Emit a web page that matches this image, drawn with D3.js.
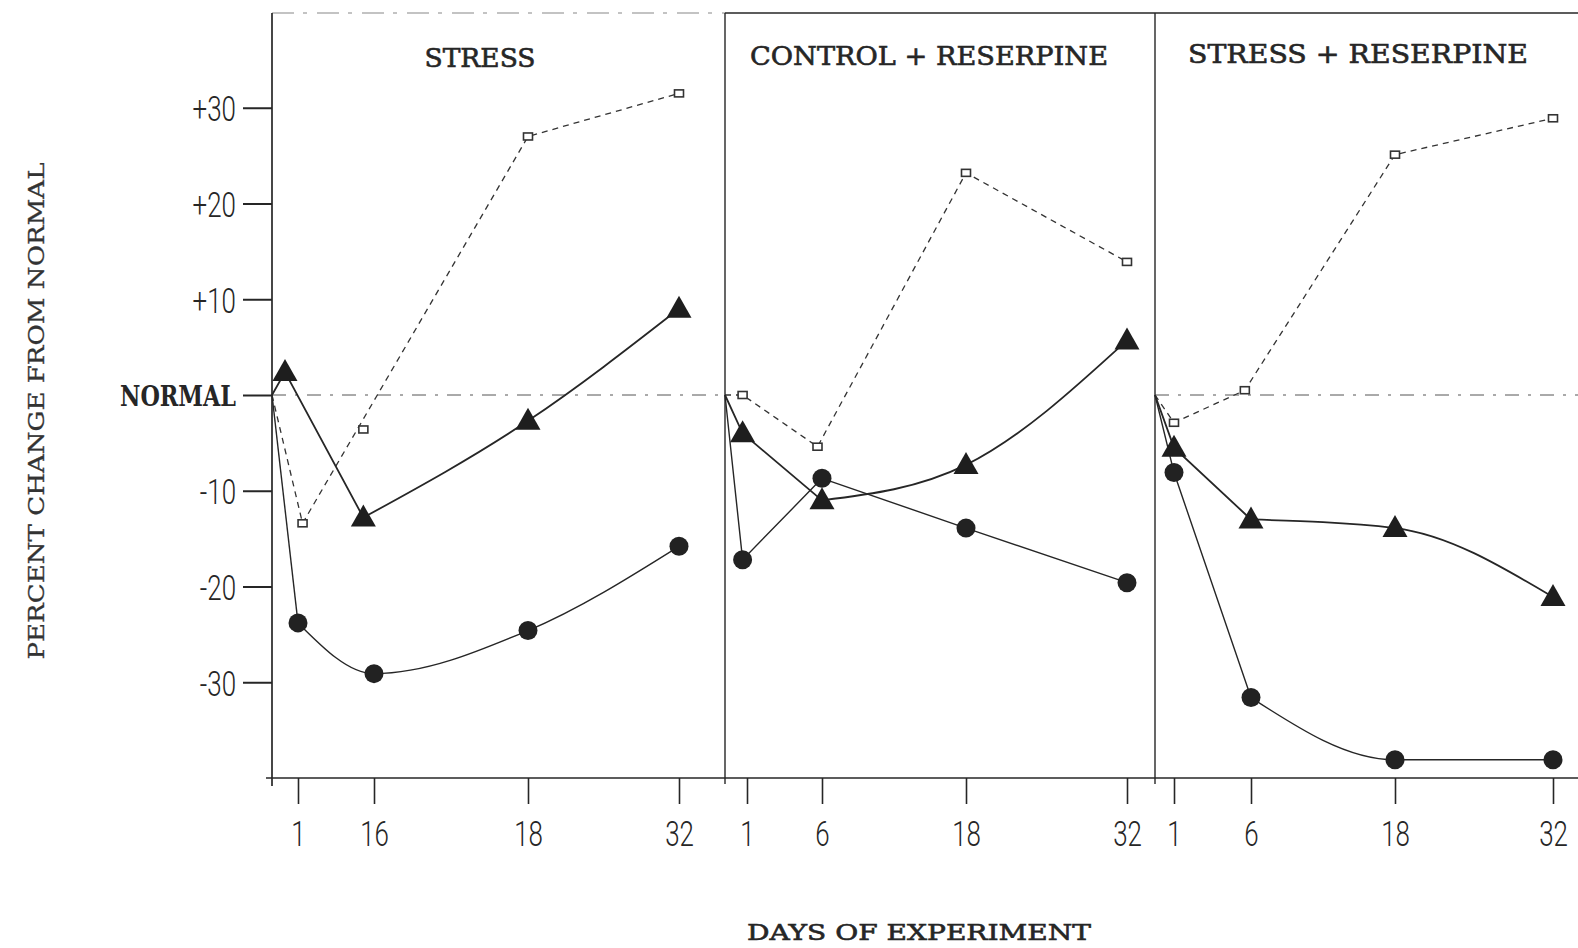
<!DOCTYPE html>
<html>
<head>
<meta charset="utf-8">
<script src="https://cdn.jsdelivr.net/npm/d3@7"></script>
<style>
  html, body { margin: 0; padding: 0; background: #fff; }
  svg { display: block; }
</style>
</head>
<body>
<svg id="chart" width="1578" height="948"></svg>
<script>
// Percent change from normal over the days of the experiment, three groups side by side.
const panelTitles = ["STRESS", "CONTROL + RESERPINE", "STRESS + RESERPINE"];
const tickDays = [1, 6, 18, 32];
const tickLabels = [["1", "16", "18", "32"], ["1", "6", "18", "32"], ["1", "6", "18", "32"]];
const yTickValues = [30, 20, 10, 0, -10, -20, -30];
const yTickLabels = ["+30", "+20", "+10", "NORMAL", "-10", "-20", "-30"];

// Every series leaves from the origin (day 0, normal); that first point carries no marker.
const squareDays = [[0, 1.3, 5.3, 18, 32], [0, 0.8, 5.7, 18, 32], [0, 1, 5.6, 18, 32]];
const squareValues = [[0, -13.4, -3.6, 27.0, 31.5], [0, 0, -5.4, 23.2, 13.9], [0, -2.9, 0.5, 25.1, 28.9]];
const squareUnjoined = [[2], [], []];
const triangleDays = [[0, 0.5, 5.3, 18, 32], [0, 0.8, 6, 18, 32], [0, 1, 6, 18, 32]];
const triangleValues = [[0, 2.4, -12.8, -2.7, 9.0], [0, -4.0, -11.0, -7.3, 5.7], [0, -5.5, -13.0, -13.9, -21.1]];
const circleDays = [[0, 1, 6, 18, 32], [0, 0.8, 6, 18, 32], [0, 1, 6, 18, 32]];
const circleValues = [[0, -23.8, -29.1, -24.6, -15.8], [0, -17.2, -8.7, -13.9, -19.6], [0, -8.1, -31.6, -38.1, -38.1]];
// point index from which each trace is drawn as a smooth curve
const triangleBend = [2, 2, 2];
const circleBend = [1, 2, 2];

// ---- layout ----
const INK = "#262626";
const TYPE = "'DejaVu Serif', 'Liberation Serif', serif";
const NUMF = "Roboto, 'Liberation Sans', sans-serif";
const plotTop = 12, plotBottom = 778;
const panelLeft = [272, 725, 1155];
const panelRight = [725, 1155, 1578];
// hand-spaced day axis: offsets of days 0, 1, 6, 18, 32 from each panel's left edge
const dayStops = [[0, 26, 102, 256, 407], [0, 22, 97, 241, 402], [0, 19, 96, 240, 398]];
const titleLength = [111, 358, 340];
const titleX = [480, 929, 1358];
const titleBase = [67, 65, 63];
const squeeze = 0.72;

const svg = d3.select("#chart");
svg.append("rect").attr("width", 1578).attr("height", 948).attr("fill", "#fff");

const y = d3.scaleLinear().domain([-40, 40]).range([plotBottom, plotTop]);
const xs = panelLeft.map((l, i) =>
  d3.scaleLinear().domain([0, 1, 6, 18, 32]).range(dayStops[i].map(o => l + o)));

// ---- frame ----
const frame = svg.append("g").attr("stroke", INK).attr("fill", "none");
frame.append("line").attr("x1", panelLeft[0]).attr("x2", panelRight[0])
  .attr("y1", plotTop + 1).attr("y2", plotTop + 1)
  .attr("stroke-width", 1.2).attr("stroke-dasharray", "22,9,4,10").attr("opacity", 0.55);
frame.append("line").attr("x1", panelLeft[1]).attr("x2", 1578)
  .attr("y1", plotTop + 1).attr("y2", plotTop + 1).attr("stroke-width", 1.3);
frame.append("line").attr("x1", panelLeft[0]).attr("x2", panelLeft[0])
  .attr("y1", plotTop + 1).attr("y2", plotBottom + 8).attr("stroke-width", 1.7);
[panelLeft[1], panelLeft[2]].forEach(x => {
  frame.append("line").attr("x1", x).attr("x2", x)
    .attr("y1", plotTop + 1).attr("y2", plotBottom + 6).attr("stroke-width", 1.4);
});
frame.append("line").attr("x1", panelLeft[0] - 6).attr("x2", 1578)
  .attr("y1", y(-40)).attr("y2", y(-40)).attr("stroke-width", 1.4);

// ---- normal reference line ----
[0, 2].forEach(i => {
  svg.append("line").attr("x1", panelLeft[i]).attr("x2", panelRight[i])
    .attr("y1", y(0)).attr("y2", y(0))
    .attr("stroke", "#555").attr("stroke-width", 1)
    .attr("stroke-dasharray", "14,9,3,9");
});

// ---- y axis ----
const yAxis = svg.append("g").attr("transform", `translate(${panelLeft[0]},0)`)
  .call(d3.axisLeft(y).tickValues(yTickValues).tickSize(29).tickPadding(7)
    .tickFormat((d, i) => yTickLabels[i]));
yAxis.select(".domain").remove();
yAxis.selectAll(".tick line").attr("stroke", INK).attr("stroke-width", 2);
yAxis.selectAll(".tick text").each(function (d) {
  const t = d3.select(this);
  if (d === 0) {
    t.attr("font-family", TYPE).attr("font-weight", 700).attr("font-size", 27)
      .attr("fill", INK).attr("dy", "0.4em")
      .attr("textLength", 116).attr("lengthAdjust", "spacingAndGlyphs");
  } else {
    const x0 = +t.attr("x");
    t.attr("font-family", NUMF).attr("font-weight", 300).attr("font-size", 36)
      .attr("fill", INK).attr("x", x0 / squeeze).attr("dy", "0.36em")
      .attr("transform", `scale(${squeeze},1)`);
  }
});

// ---- x axes ----
xs.forEach((xs_i, i) => {
  const g = svg.append("g").attr("transform", `translate(0,${y(-40)})`)
    .call(d3.axisBottom(xs_i).tickValues(tickDays).tickSize(26).tickPadding(16)
      .tickFormat((d, j) => tickLabels[i][j]));
  g.select(".domain").remove();
  g.selectAll(".tick line").attr("stroke", INK).attr("stroke-width", 1.6);
  g.selectAll(".tick text")
    .attr("font-family", NUMF).attr("font-weight", 300).attr("font-size", 36)
    .attr("fill", INK).attr("transform", `scale(${squeeze},1)`);
});

// ---- panel titles ----
panelTitles.forEach((t, i) => {
  svg.append("text").attr("x", titleX[i]).attr("y", titleBase[i])
    .attr("text-anchor", "middle").attr("font-family", TYPE).attr("font-size", 26)
    .attr("fill", INK).attr("stroke", INK).attr("stroke-width", 0.6)
    .attr("textLength", titleLength[i]).attr("lengthAdjust", "spacingAndGlyphs")
    .text(t);
});

// ---- axis titles ----
svg.append("text").attr("transform", "translate(44,411) rotate(-90)")
  .attr("text-anchor", "middle").attr("font-family", TYPE).attr("font-size", 23)
  .attr("fill", "#333").attr("stroke", "#333").attr("stroke-width", 0.3)
  .attr("textLength", 497).attr("lengthAdjust", "spacingAndGlyphs")
  .text("PERCENT CHANGE FROM NORMAL");
svg.append("text").attr("x", 919).attr("y", 940)
  .attr("text-anchor", "middle").attr("font-family", TYPE).attr("font-size", 22)
  .attr("fill", INK).attr("stroke", INK).attr("stroke-width", 0.6)
  .attr("textLength", 344).attr("lengthAdjust", "spacingAndGlyphs")
  .text("DAYS OF EXPERIMENT");

// ---- traces ----
const straight = d3.line();
const smooth = d3.line().curve(d3.curveMonotoneX);
const traces = svg.append("g").attr("fill", "none");
const marks = svg.append("g");

panelTitles.forEach((_, i) => {
  const x = xs[i];
  const sq = squareDays[i].map((d, j) => [x(d), y(squareValues[i][j])]);
  const tri = triangleDays[i].map((d, j) => [x(d), y(triangleValues[i][j])]);
  const cir = circleDays[i].map((d, j) => [x(d), y(circleValues[i][j])]);

  // open squares: broken line
  traces.append("path")
    .attr("d", straight(sq.filter((p, j) => !squareUnjoined[i].includes(j))))
    .attr("stroke", "#333").attr("stroke-width", 1.3).attr("stroke-dasharray", "6,5");

  // triangles: straight start, smoothed remainder
  traces.append("path").attr("d", straight(tri.slice(0, triangleBend[i] + 1)))
    .attr("stroke", INK).attr("stroke-width", 1.8);
  traces.append("path").attr("d", smooth(tri.slice(triangleBend[i])))
    .attr("stroke", INK).attr("stroke-width", 1.8);

  // circles
  traces.append("path").attr("d", straight(cir.slice(0, circleBend[i] + 1)))
    .attr("stroke", INK).attr("stroke-width", 1.4);
  traces.append("path").attr("d", smooth(cir.slice(circleBend[i])))
    .attr("stroke", INK).attr("stroke-width", 1.4);

  marks.selectAll(null).data(cir.slice(1)).join("circle")
    .attr("cx", p => p[0]).attr("cy", p => p[1]).attr("r", 9.5)
    .attr("fill", "#222");
  marks.selectAll(null).data(tri.slice(1)).join("path")
    .attr("transform", p => `translate(${p[0]},${p[1]})`)
    .attr("d", "M0,-13L12.5,9L-12.5,9Z").attr("fill", "#1e1e1e");
  marks.selectAll(null).data(sq.slice(1)).join("rect")
    .attr("x", p => p[0] - 4.5).attr("y", p => p[1] - 3.5)
    .attr("width", 9).attr("height", 7)
    .attr("fill", "#fff").attr("stroke", "#333").attr("stroke-width", 1.6);
});
</script>
</body>
</html>
